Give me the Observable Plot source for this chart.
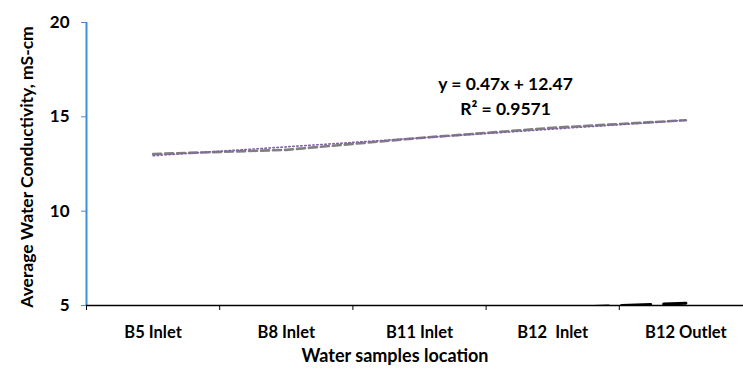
<!DOCTYPE html>
<html>
<head>
<meta charset="utf-8">
<script src="https://cdn.jsdelivr.net/npm/d3@7"></script>
<script src="https://cdn.jsdelivr.net/npm/@observablehq/plot@0.6"></script>
<style>
  html, body { margin: 0; padding: 0; background: #fff; }
  #chart svg { overflow: hidden; white-space: pre; }
</style>
</head>
<body>
<div id="chart"></div>
<script>
// Sampling locations along the channel
const locations = ["B5 Inlet", "B8 Inlet", "B11 Inlet", "B12  Inlet", "B12 Outlet"];
// Average water conductivity (mS-cm) at each location
const conductivity = [13.03, 13.25, 13.88, 14.42, 14.82];
// Lower series, only visible where it rises above the axis floor
const lowerLocations = ["B12  Inlet", "B12 Outlet"];
const lowerValues = [4.87, 5.12];
// Linear trendline fitted to the averages
const slope = 0.47;
const intercept = 12.47;
const rSquared = 0.9571;
const yTicks = [5, 10, 15, 20];

const idx = (name) => locations.indexOf(name) + 1;
const avgData = locations.map((loc, i) => ({x: i + 1, y: conductivity[i]}));
const lowerData = lowerLocations.map((loc, i) => ({x: idx(loc), y: lowerValues[i]}));
const trendData = locations.map((loc, i) => ({x: i + 1, y: slope * (i + 1) + intercept}));
const bounds = d3.range(locations.length + 1).map((i) => i + 0.5);

const font = "Lato, 'Open Sans', sans-serif";
const blue = "#3f8fd8";

const chart = Plot.plot({
  width: 743,
  height: 368,
  marginLeft: 86,
  marginRight: 0,
  marginTop: 22,
  marginBottom: 63,
  style: {fontFamily: font, background: "#fff"},
  x: {domain: [0.5, locations.length + 0.5], range: [86, 752]},
  y: {domain: [5, 20]},
  marks: [
    // series lines
    Plot.line(lowerData, {x: "x", y: "y", stroke: "#000", strokeWidth: 3,
      strokeDasharray: "29,13", strokeDashoffset: 15, clip: true}),
    Plot.line(avgData, {x: "x", y: "y", stroke: "#808080", strokeWidth: 2.6,
      strokeDasharray: "8,4"}),
    Plot.line(trendData, {x: "x", y: "y", stroke: "#8064A2", strokeWidth: 1.6,
      strokeDasharray: "1.5,2.5"}),
    // trendline equation
    Plot.text([`y = ${slope}x + ${intercept}\nR² = ${rSquared}`], {
      frameAnchor: "top-left", dx: 419, dy: 50, lineAnchor: "top", lineHeight: 1.42,
      textAnchor: "middle", fontSize: 17.5, fontWeight: "bold", fill: "#000"
    }),
    // axes
    Plot.ruleX([0.5], {y1: 5, y2: 20, stroke: blue, strokeWidth: 2}),
    Plot.axisY(yTicks, {tickSize: 5, stroke: blue, fill: "#000", tickPadding: 12,
      fontSize: 17, fontWeight: "bold", label: null}),
    Plot.ruleY([5], {stroke: "#000", strokeWidth: 1.6}),
    Plot.axisX(bounds, {tickSize: 5, stroke: "#000", tickFormat: () => "", label: null}),
    Plot.axisX(locations.map((d, i) => i + 1), {tickSize: 0, tickPadding: 21,
      tickFormat: (d) => locations[d - 1], fill: "#000", fontSize: 16.5,
      fontWeight: "bold", label: null}),
    Plot.text(["Water samples location"], {frameAnchor: "bottom", dx: -20, dy: 56,
      fontSize: 18, fontWeight: "bold", fill: "#000"}),
    Plot.text(["Average Water Conductivity, mS-cm"], {frameAnchor: "left", rotate: -90,
      textAnchor: "middle", dx: -59, dy: 3, fontSize: 17.5, fontWeight: "bold", fill: "#000"})
  ]
});
document.getElementById("chart").append(chart);
</script>
</body>
</html>
